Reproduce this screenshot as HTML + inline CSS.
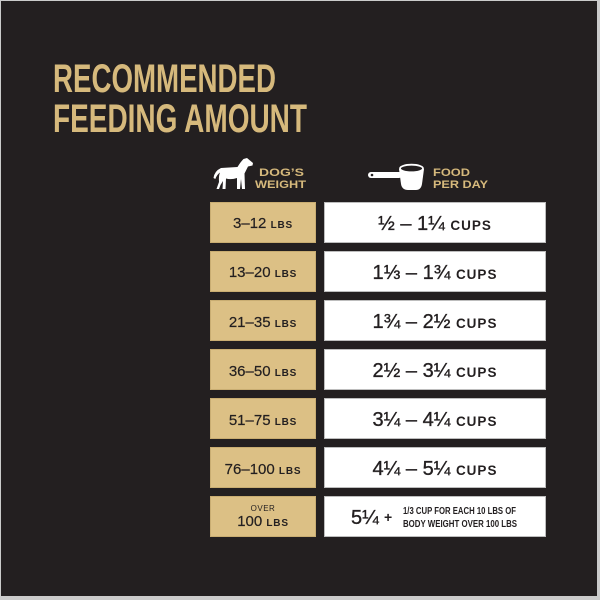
<!DOCTYPE html>
<html><head><meta charset="utf-8"><style>
html,body{margin:0;padding:0;background:#cfcfcf;}
svg{display:block;}
text{font-family:"Liberation Sans","DejaVu Sans",sans-serif;}
</style></head><body>
<svg width="600" height="600" viewBox="0 0 600 600" xmlns="http://www.w3.org/2000/svg">
<rect x="0" y="0" width="600" height="600" fill="#cbcbcb"/>
<rect x="1" y="1" width="596" height="595" fill="#231f20"/>

<!-- Title -->
<text x="53" y="92" font-size="40" font-weight="bold" fill="#d6b97c" textLength="223" lengthAdjust="spacingAndGlyphs">RECOMMENDED</text>
<text x="53" y="132" font-size="40" font-weight="bold" fill="#d6b97c" textLength="254" lengthAdjust="spacingAndGlyphs">FEEDING AMOUNT</text>

<!-- Dog icon -->
<path d="M213.5,178 Q214.5,171 221,168 L237.5,167 Q240.5,162 243.5,159 L247,158 L250,160.5 L253,163 L252.5,165.5 L248,166.5 Q246,170.5 244.5,173.5 L245,189 L242,189 L241,179 L240,189 L237,189 L237,178 Q231,180 226,178.5 L225.5,189 L222.5,189 L223,181 L220.5,185 L219,189 L216.5,189 L219,182 Q218.5,176 220,172.5 Q217,174.5 215.3,179 Z" fill="#ffffff"/>
<text x="281.5" y="176" font-size="11" font-weight="bold" fill="#d6b97c" text-anchor="middle" textLength="45" lengthAdjust="spacingAndGlyphs">DOG’S</text>
<text x="280.5" y="188" font-size="11" font-weight="bold" fill="#d6b97c" text-anchor="middle" textLength="51" lengthAdjust="spacingAndGlyphs">WEIGHT</text>

<!-- Cup icon -->
<rect x="368" y="172" width="34" height="6" rx="3" fill="#ffffff"/>
<circle cx="372" cy="175" r="1.3" fill="#231f20"/>
<path d="M399,169 L401,184 Q402,190 408,190 L416,190 Q421,190 422,184 L424,169 Z" fill="#ffffff"/>
<ellipse cx="411.5" cy="168.5" rx="11.5" ry="3.8" fill="#231f20" stroke="#ffffff" stroke-width="1.8"/>
<text x="433" y="176" font-size="11" font-weight="bold" fill="#d6b97c" textLength="37" lengthAdjust="spacingAndGlyphs">FOOD</text>
<text x="433" y="188" font-size="11" font-weight="bold" fill="#d6b97c" textLength="55" lengthAdjust="spacingAndGlyphs">PER DAY</text>

<!-- Rows -->
<g stroke-width="1">
<rect x="210.5" y="202.5" width="105" height="40" fill="#dcc085" stroke="#c9ad72"/>
<rect x="324.5" y="202.5" width="221" height="40" fill="#ffffff" stroke="#bdbdbd"/>
<rect x="210.5" y="251.5" width="105" height="40" fill="#dcc085" stroke="#c9ad72"/>
<rect x="324.5" y="251.5" width="221" height="40" fill="#ffffff" stroke="#bdbdbd"/>
<rect x="210.5" y="300.5" width="105" height="40" fill="#dcc085" stroke="#c9ad72"/>
<rect x="324.5" y="300.5" width="221" height="40" fill="#ffffff" stroke="#bdbdbd"/>
<rect x="210.5" y="349.5" width="105" height="40" fill="#dcc085" stroke="#c9ad72"/>
<rect x="324.5" y="349.5" width="221" height="40" fill="#ffffff" stroke="#bdbdbd"/>
<rect x="210.5" y="398.5" width="105" height="40" fill="#dcc085" stroke="#c9ad72"/>
<rect x="324.5" y="398.5" width="221" height="40" fill="#ffffff" stroke="#bdbdbd"/>
<rect x="210.5" y="447.5" width="105" height="40" fill="#dcc085" stroke="#c9ad72"/>
<rect x="324.5" y="447.5" width="221" height="40" fill="#ffffff" stroke="#bdbdbd"/>
<rect x="210.5" y="496.5" width="105" height="40" fill="#dcc085" stroke="#c9ad72"/>
<rect x="324.5" y="496.5" width="221" height="40" fill="#ffffff" stroke="#bdbdbd"/>
</g>

<!-- Weight labels -->
<g fill="#231f20" stroke="#231f20" stroke-width="0.2" text-anchor="middle">
<text x="263" y="228" font-size="15">3–12 <tspan font-size="10" font-weight="bold" letter-spacing="0.8" stroke-width="0">LBS</tspan></text>
<text x="263" y="277" font-size="15">13–20 <tspan font-size="10" font-weight="bold" letter-spacing="0.8" stroke-width="0">LBS</tspan></text>
<text x="263" y="327" font-size="15">21–35 <tspan font-size="10" font-weight="bold" letter-spacing="0.8" stroke-width="0">LBS</tspan></text>
<text x="263" y="376" font-size="15">36–50 <tspan font-size="10" font-weight="bold" letter-spacing="0.8" stroke-width="0">LBS</tspan></text>
<text x="263" y="425" font-size="15">51–75 <tspan font-size="10" font-weight="bold" letter-spacing="0.8" stroke-width="0">LBS</tspan></text>
<text x="263" y="474" font-size="15">76–100 <tspan font-size="10" font-weight="bold" letter-spacing="0.8" stroke-width="0">LBS</tspan></text>
<text x="263" y="511" font-size="8" stroke-width="0" letter-spacing="0.5">OVER</text>
<text x="263" y="526" font-size="15">100 <tspan font-size="10" font-weight="bold" letter-spacing="0.8" stroke-width="0">LBS</tspan></text>
</g>

<!-- Cups -->
<g fill="#231f20" stroke="#231f20" stroke-width="0.35" text-anchor="middle">
<text x="435" y="230" font-size="20">½ – 1¼ <tspan font-size="13.5" font-weight="bold" letter-spacing="1" stroke-width="0">CUPS</tspan></text>
<text x="435" y="279" font-size="20">1⅓ – 1¾ <tspan font-size="13.5" font-weight="bold" letter-spacing="1" stroke-width="0">CUPS</tspan></text>
<text x="435" y="328" font-size="20">1¾ – 2½ <tspan font-size="13.5" font-weight="bold" letter-spacing="1" stroke-width="0">CUPS</tspan></text>
<text x="435" y="377" font-size="20">2½ – 3¼ <tspan font-size="13.5" font-weight="bold" letter-spacing="1" stroke-width="0">CUPS</tspan></text>
<text x="435" y="426" font-size="20">3¼ – 4¼ <tspan font-size="13.5" font-weight="bold" letter-spacing="1" stroke-width="0">CUPS</tspan></text>
<text x="435" y="475" font-size="20">4¼ – 5¼ <tspan font-size="13.5" font-weight="bold" letter-spacing="1" stroke-width="0">CUPS</tspan></text>
</g>
<g fill="#231f20">
<text x="351" y="524" font-size="20" stroke="#231f20" stroke-width="0.35">5¼</text>
<text x="384" y="522" font-size="14" font-weight="bold">+</text>
<text x="403" y="514" font-size="10" font-weight="bold" textLength="113" lengthAdjust="spacingAndGlyphs">1/3 CUP FOR EACH 10 LBS OF</text>
<text x="403" y="527" font-size="10" font-weight="bold" textLength="114" lengthAdjust="spacingAndGlyphs">BODY WEIGHT OVER 100 LBS</text>
</g>
</svg>
</body></html>
